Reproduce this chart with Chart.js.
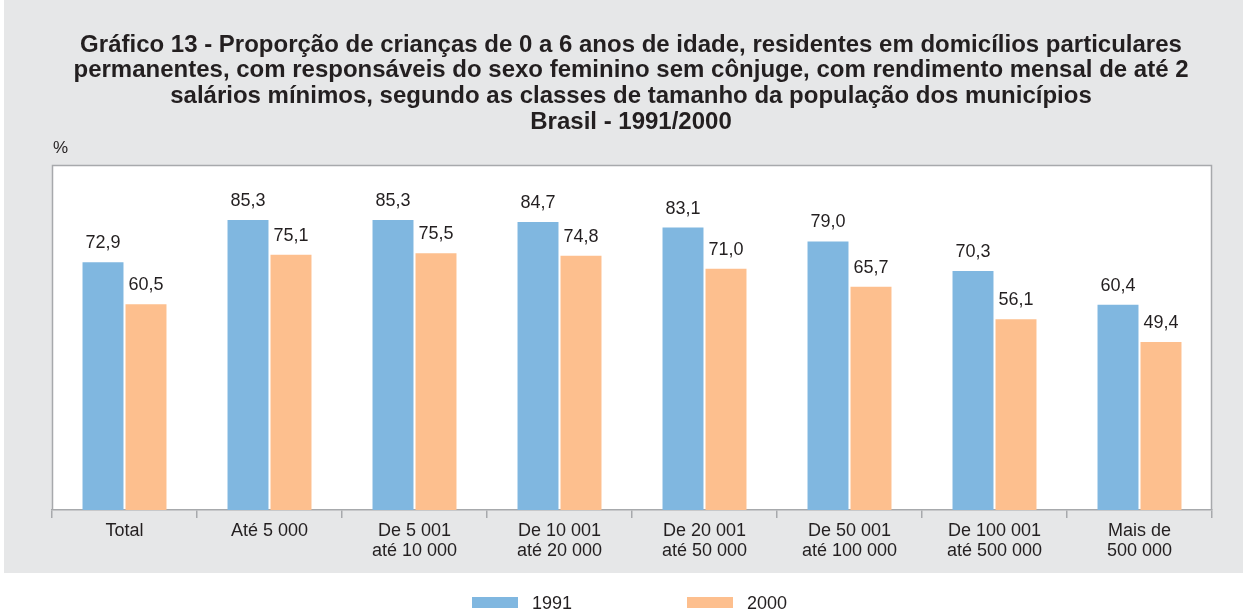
<!DOCTYPE html>
<html lang="pt-BR">
<head>
<meta charset="utf-8">
<title>Gráfico 13</title>
<script src="https://cdn.jsdelivr.net/npm/chart.js@4/dist/chart.umd.min.js"></script>
<style>
  html, body { margin: 0; padding: 0; background: #ffffff; }
  #wrap { width: 1243px; height: 612px; position: relative; }
</style>
</head>
<body>
<div id="wrap"><canvas id="grafico"></canvas></div>
<script>
// Dados do gráfico
const categorias = [
    'Total',
    'Até 5 000',
    ['De 5 001', 'até 10 000'],
    ['De 10 001', 'até 20 000'],
    ['De 20 001', 'até 50 000'],
    ['De 50 001', 'até 100 000'],
    ['De 100 001', 'até 500 000'],
    ['Mais de', '500 000']
];
const anos = ['1991', '2000'];
const valores1991 = [72.9, 85.3, 85.3, 84.7, 83.1, 79.0, 70.3, 60.4];
const valores2000 = [60.5, 75.1, 75.5, 74.8, 71.0, 65.7, 56.1, 49.4];
const titulo = [
    'Gráfico 13 - Proporção de crianças de 0 a 6 anos de idade, residentes em domicílios particulares',
    'permanentes, com responsáveis do sexo feminino sem cônjuge, com rendimento mensal de até 2',
    'salários mínimos, segundo as classes de tamanho da população dos municípios',
    'Brasil - 1991/2000'
];

const corTexto = '#231f20';
const corFundo = '#e6e7e8';
const corBorda = '#a7a9ac';
const fonte = '"Liberation Sans", Arial, Helvetica, sans-serif';

// Plugin para o fundo, título, rótulos e legenda
const decoracao = {
    id: 'decoracao',
    beforeDraw(chart) {
        const ctx = chart.ctx;
        const a = chart.chartArea;
        ctx.save();
        ctx.fillStyle = '#ffffff';
        ctx.fillRect(0, 0, chart.width, chart.height);
        ctx.fillStyle = corFundo;
        ctx.fillRect(4, 0, chart.width - 4, 573);
        ctx.fillStyle = '#ffffff';
        ctx.fillRect(a.left, a.top, a.right - a.left, a.bottom - a.top);
        ctx.strokeStyle = corBorda;
        ctx.lineWidth = 1.5;
        ctx.beginPath();
        ctx.moveTo(a.left + 0.5, a.bottom);
        ctx.lineTo(a.left + 0.5, a.top + 0.5);
        ctx.lineTo(a.right - 0.5, a.top + 0.5);
        ctx.lineTo(a.right - 0.5, a.bottom);
        ctx.stroke();
        ctx.restore();
    },
    afterDatasetsDraw(chart) {
        const ctx = chart.ctx;
        ctx.save();
        ctx.fillStyle = corTexto;
        ctx.font = '18px ' + fonte;
        ctx.textAlign = 'center';
        ctx.textBaseline = 'alphabetic';
        chart.data.datasets.forEach((ds, i) => {
            chart.getDatasetMeta(i).data.forEach((bar, j) => {
                ctx.fillText(ds.data[j].toFixed(1).replace('.', ','), bar.x, bar.y - 14);
            });
        });
        ctx.restore();
    },
    afterDraw(chart) {
        const ctx = chart.ctx;
        const a = chart.chartArea;
        ctx.save();
        ctx.fillStyle = corTexto;
        // título
        ctx.font = 'bold 24px ' + fonte;
        ctx.textAlign = 'center';
        ctx.textBaseline = 'middle';
        titulo.forEach((linha, i) => {
            ctx.fillText(linha, 631, 45 + i * 25.7);
        });
        // unidade
        ctx.font = '17px ' + fonte;
        ctx.textAlign = 'left';
        ctx.fillText('%', a.left + 1, 148);
        // legenda
        const posX = [472, 687];
        ctx.font = '18px ' + fonte;
        chart.data.datasets.forEach((ds, i) => {
            ctx.fillStyle = ds.backgroundColor;
            ctx.fillRect(posX[i], 597, 46, 11);
            ctx.fillStyle = corTexto;
            ctx.fillText(ds.label, posX[i] + 60, 604);
        });
        ctx.restore();
    }
};

new Chart(document.getElementById('grafico').getContext('2d'), {
    type: 'bar',
    data: {
        labels: categorias,
        datasets: [
            { label: anos[0], data: valores1991, backgroundColor: '#80b7e0' },
            { label: anos[1], data: valores2000, backgroundColor: '#fdbf8e' }
        ]
    },
    options: {
        responsive: true,
        maintainAspectRatio: false,
        animation: false,
        devicePixelRatio: 1,
        categoryPercentage: 0.593,
        barPercentage: 0.953,
        layout: { padding: { left: 52, right: 31, top: 165, bottom: 0 } },
        plugins: {
            legend: { display: false },
            title: { display: false },
            tooltip: { enabled: false }
        },
        scales: {
            y: { display: false, min: 0, max: 101.5 },
            x: {
                afterFit: function(scale) { scale.height = 102; },
                grid: {
                    offset: true,
                    drawOnChartArea: false,
                    drawTicks: true,
                    tickLength: 8,
                    color: corBorda,
                    lineWidth: 1.5
                },
                border: { color: corBorda, width: 1.5 },
                ticks: {
                    color: corTexto,
                    padding: 3,
                    maxRotation: 0,
                    autoSkip: false,
                    font: { family: fonte, size: 18, lineHeight: 1.12 }
                }
            }
        }
    },
    plugins: [decoracao]
});
</script>
</body>
</html>
